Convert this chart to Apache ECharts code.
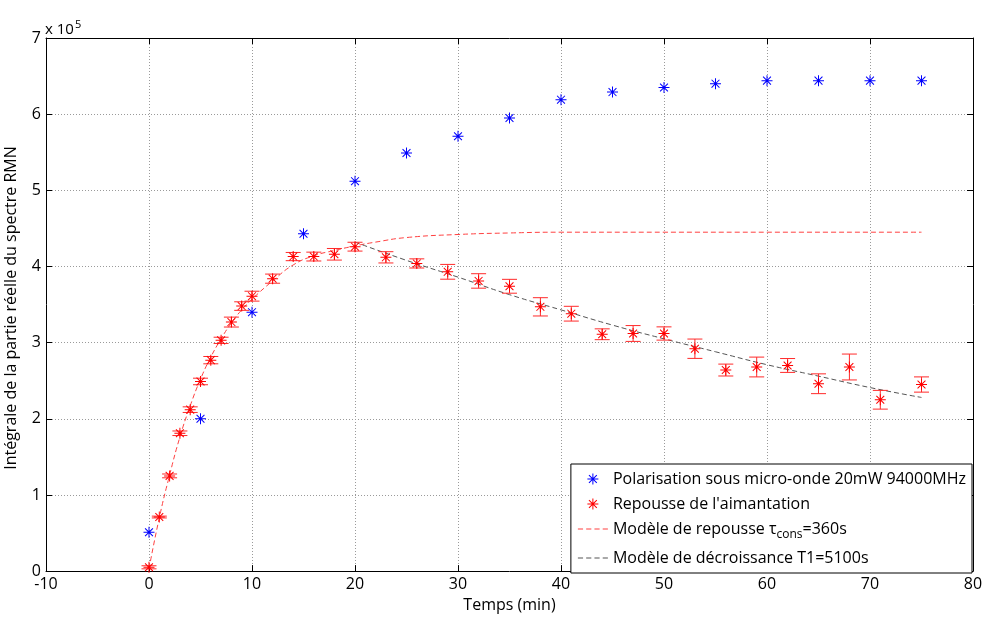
<!DOCTYPE html>
<html><head><meta charset="utf-8">
<script src="https://cdn.jsdelivr.net/npm/echarts@6/dist/echarts.min.js"></script>
<style>html,body{margin:0;padding:0;background:#fff}#c{width:987px;height:618px}</style>
</head><body><div id="c"></div>
<script>
// Values in units of 1e5
var blueX = [0,5,10,15,20,25,30,35,40,45,50,55,60,65,70,75];
var blueY = [0.51,2.00,3.40,4.43,5.12,5.49,5.71,5.95,6.19,6.29,6.35,6.40,6.44,6.44,6.44,6.44];

var redX = [0,1,2,3,4,5,6,7,8,9,10,12,14,16,18,20,23,26,29,32,35,38,41,44,47,50,53,56,59,62,65,68,71,75];
var redY = [0.05,0.71,1.25,1.81,2.12,2.49,2.77,3.03,3.27,3.48,3.61,3.84,4.13,4.13,4.16,4.26,4.12,4.04,3.93,3.81,3.74,3.47,3.38,3.11,3.12,3.12,2.92,2.64,2.68,2.70,2.46,2.68,2.25,2.45];
var redErr = [0.02,0.012,0.025,0.03,0.037,0.043,0.048,0.041,0.065,0.056,0.065,0.06,0.054,0.058,0.076,0.058,0.074,0.06,0.097,0.095,0.091,0.12,0.097,0.071,0.104,0.087,0.127,0.078,0.13,0.091,0.13,0.17,0.123,0.1];

var repX = [0,1,2,3,4,5,6,7,8,9,10,12,14,16,18,20,22,25,30,35,40,50,60,75];
var repY = [0.03,0.70,1.26,1.76,2.17,2.52,2.81,3.05,3.26,3.43,3.57,3.81,4.02,4.14,4.21,4.27,4.32,4.38,4.42,4.44,4.45,4.45,4.45,4.45];

var decX = [20,25,30,35,40,45,50,55,60,65,70,75];
var decY = [4.32,4.08,3.86,3.63,3.43,3.23,3.05,2.88,2.71,2.56,2.41,2.28];

var names = ['Polarisation sous micro-onde 20mW 94000MHz', "Repousse de l'aimantation", 'Modèle de repousse τcons=360s', 'Modèle de décroissance T1=5100s'];

var FONT = 'Open Sans';
var star = 'path://M0 9.1H20V10.9H0Z M9.1 0H10.9V20H9.1Z M2.2 3.5L3.5 2.2L17.8 16.5L16.5 17.8Z M16.5 2.2L17.8 3.5L3.5 17.8L2.2 16.5Z';
var dashIcon = 'path://M0 0H5V1.2H0Z M8 0H13V1.2H8Z M16 0H21V1.2H16Z M24 0H29V1.2H24Z';

function zip(a, b) { return a.map(function (v, i) { return [v, b[i]]; }); }
var errData = redX.map(function (v, i) { return [v, redY[i], redErr[i]]; });

var chart = echarts.init(document.getElementById('c'), null, {renderer: 'canvas'});
var axisCommon = {
  type: 'value',
  axisLine: {show: true, onZero: false, lineStyle: {color: '#000', width: 1}},
  axisTick: {show: true, inside: true, length: 6, lineStyle: {color: '#000'}},
  axisLabel: {color: '#000', fontFamily: FONT, fontSize: 16},
  splitLine: {show: false}
};
var option = {
  animation: false,
  backgroundColor: '#fff',
  grid: {left: 46, right: 14, top: 38, bottom: 41, containLabel: false},
  xAxis: [
    Object.assign({}, axisCommon, {min: -10, max: 80, interval: 10, position: 'bottom',
      axisLabel: {color: '#000', fontFamily: FONT, fontSize: 16, margin: 5},
      splitLine: {show: true, lineStyle: {color: '#9a9a9a', type: [1, 2], width: 1}},
      name: 'Temps (min)', nameLocation: 'middle', nameGap: 24,
      nameTextStyle: {color: '#000', fontFamily: FONT, fontSize: 16}}),
    Object.assign({}, axisCommon, {min: -10, max: 80, interval: 10, position: 'top',
      axisLabel: {show: false}})
  ],
  yAxis: [
    Object.assign({}, axisCommon, {min: 0, max: 7, interval: 1, position: 'left',
      axisLabel: {color: '#000', fontFamily: FONT, fontSize: 16, margin: 5},
      splitLine: {show: true, lineStyle: {color: '#9a9a9a', type: [1, 2], width: 1}}}),
    Object.assign({}, axisCommon, {min: 0, max: 7, interval: 1, position: 'right',
      axisLabel: {show: false}})
  ],
  legend: {
    data: [
      {name: names[0]},
      {name: names[1]},
      {name: names[2], icon: dashIcon},
      {name: names[3], icon: dashIcon}
    ],
    orient: 'vertical',
    right: 15, bottom: 45,
    backgroundColor: '#fff',
    borderColor: '#000', borderWidth: 1, borderRadius: 0,
    padding: [7, 6, 7, 7],
    itemGap: 9,
    itemWidth: 30, itemHeight: 11,
    textStyle: {color: '#000', fontFamily: FONT, fontSize: 16,
      rich: {sub: {fontFamily: FONT, fontSize: 12, padding: [12, 0, 0, 0], color: '#000'}}},
    formatter: function (n) {
      if (n.indexOf('τcons') >= 0) return 'Modèle de repousse τ{sub|cons}=360s';
      return n;
    }
  },
  graphic: [
    {type: 'text', left: 45, top: 19, style: {text: 'x 10{sup|5}', fill: '#000',
      font: '15px "Open Sans"',
      rich: {sup: {fontSize: 11, fontFamily: FONT, padding: [0, 0, 11, 1]}}}},
    {type: 'text', x: 11, y: 308, rotation: Math.PI / 2,
      style: {text: 'Intégrale de la partie réelle du spectre RMN', fill: '#000',
        font: '16px "Open Sans"', align: 'center', verticalAlign: 'middle'}}
  ],
  series: [
    {name: names[2], type: 'line', data: zip(repX, repY), smooth: true, symbol: 'none', showSymbol: false,
      lineStyle: {color: '#ff4040', width: 1, type: [5, 3]}, itemStyle: {color: '#ff4040'}, z: 2},
    {name: names[3], type: 'line', data: zip(decX, decY), smooth: true, symbol: 'none', showSymbol: false,
      lineStyle: {color: '#555', width: 1, type: [5, 3]}, itemStyle: {color: '#555'}, z: 2},
    {name: 'err', type: 'custom', data: errData, z: 3,
      encode: {x: 0, y: [1]},
      renderItem: function (params, api) {
        var x = api.value(0), y = api.value(1), e = api.value(2);
        var lo = api.coord([x, y - e]), hi = api.coord([x, y + e]);
        var w = 7.5;
        var st = {stroke: '#ff2a2a', lineWidth: 1};
        return {type: 'group', children: [
          {type: 'line', shape: {x1: lo[0], y1: lo[1], x2: hi[0], y2: hi[1]}, style: st},
          {type: 'line', shape: {x1: lo[0] - w, y1: lo[1], x2: lo[0] + w, y2: lo[1]}, style: st},
          {type: 'line', shape: {x1: hi[0] - w, y1: hi[1], x2: hi[0] + w, y2: hi[1]}, style: st}
        ]};
      }},
    {name: names[0], type: 'scatter', data: zip(blueX, blueY), symbol: star, symbolSize: 11,
      itemStyle: {color: '#0000ff', opacity: 1}, z: 4},
    {name: names[1], type: 'scatter', data: zip(redX, redY), symbol: star, symbolSize: 11,
      itemStyle: {color: '#ff0000', opacity: 1}, z: 4}
  ]
};
chart.setOption(option);
</script></body></html>
